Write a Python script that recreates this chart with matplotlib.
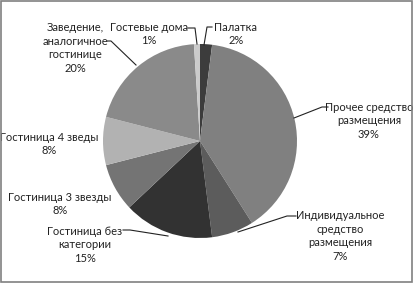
import matplotlib
matplotlib.use("Agg")
import matplotlib.pyplot as plt
from matplotlib.patches import Rectangle

# Data (clockwise from 12 o'clock)
labels = ["Палатка", "Прочее средство\nразмещения", "Индивидуальное\nсредство\nразмещения",
          "Гостиница без\nкатегории", "Гостиница 3 звезды", "Гостиница 4 зведы",
          "Заведение,\nаналогичное\nгостинице", "Гостевые дома"]
shares = [2, 39, 7, 15, 8, 8, 20, 1]
colors = ["#3c3c3c", "#808080", "#5c5c5c", "#323232", "#747474", "#b2b2b2", "#8a8a8a", "#cbcbcb"]

H = 283  # work in image pixels, y measured from the top

# label text position and leader line (text end -> pie edge) or None
label_pos = [(236, 34), (369, 121), (340, 236), (85, 245), (60, 204), (49, 144), (75, 48), (149, 34)]
leaders = [
    [(212, 27), (207, 27), (204, 45)],
    [(328, 107), (322, 107), (294, 118)],
    [(296, 216), (287, 216), (238, 232)],
    [(123, 230), (130, 230), (168, 236)],
    None,
    None,
    [(107, 41), (111, 41), (136, 65)],
    [(188, 28), (195, 28), (197, 44)],
]

fig = plt.figure(figsize=(4.14, 2.83), dpi=100)
ax = fig.add_axes([0, 0, 1, 1])

ax.pie(shares, colors=colors, startangle=90, counterclock=False,
       center=(200, H - 141), radius=97, frame=True,
       wedgeprops=dict(linewidth=0))
ax.set_xlim(0, 414)
ax.set_ylim(0, H)
ax.set_aspect("equal")
ax.axis("off")

for lab, val, (x, y), ld in zip(labels, shares, label_pos, leaders):
    ax.text(x, H - y, f"{lab}\n{val}%", ha="center", va="center", fontsize=8,
            family="Lato", color="#222222", linespacing=1.3)
    if ld:
        ax.plot([p[0] for p in ld], [H - p[1] for p in ld], color="#222222", lw=0.8)

fig.patches.append(Rectangle((0.002, 0.004), 0.994, 0.992, transform=fig.transFigure,
                             fill=False, edgecolor="#808080", linewidth=1.2))

fig.savefig("out.png", dpi=100)
